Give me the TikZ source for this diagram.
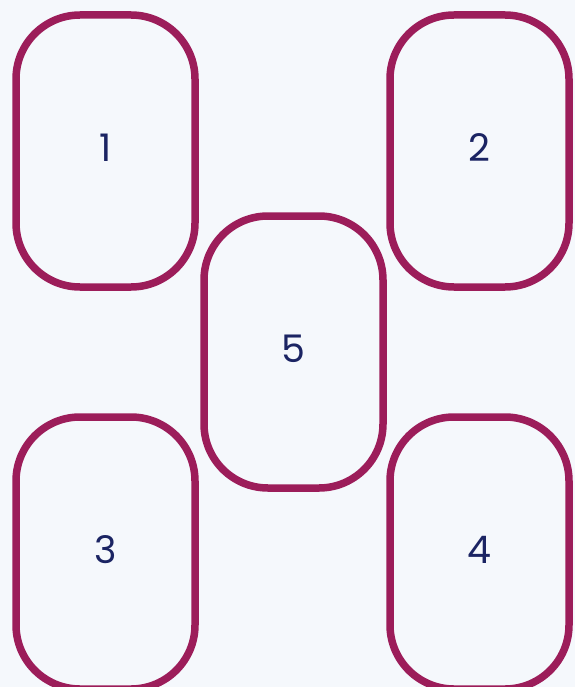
\documentclass[tikz,border=0pt]{standalone}
\usepackage{fontspec}
\setmainfont{Poppins}
\definecolor{bgc}{HTML}{F5F8FC}
\definecolor{framec}{HTML}{9C1D5A}
\definecolor{numc}{HTML}{1B2463}
\newcommand{\cardnum}[1]{\raisebox{7pt}{#1}}
\tikzset{
  card/.style={draw=framec, line width=7.5pt, rounded corners=64pt,
    minimum width=179pt, minimum height=272pt, inner sep=0pt,
    text=numc, font=\fontsize{38}{40}\selectfont}
}
\begin{document}
\begin{tikzpicture}[x=1pt,y=-1pt]
\fill[bgc] (0,0) rectangle (575,687);
\useasboundingbox (0,0) rectangle (575,687);
\node[card] (c1) at (105.5,151) {\cardnum{1}};
\node[card] (c2) at (479.5,151) {\cardnum{2}};
\node[card] (c5) at (293.5,352) {\cardnum{5}};
\node[card] (c3) at (105.5,553) {\cardnum{3}};
\node[card] (c4) at (479.5,553) {\cardnum{4}};
\end{tikzpicture}
\end{document}
